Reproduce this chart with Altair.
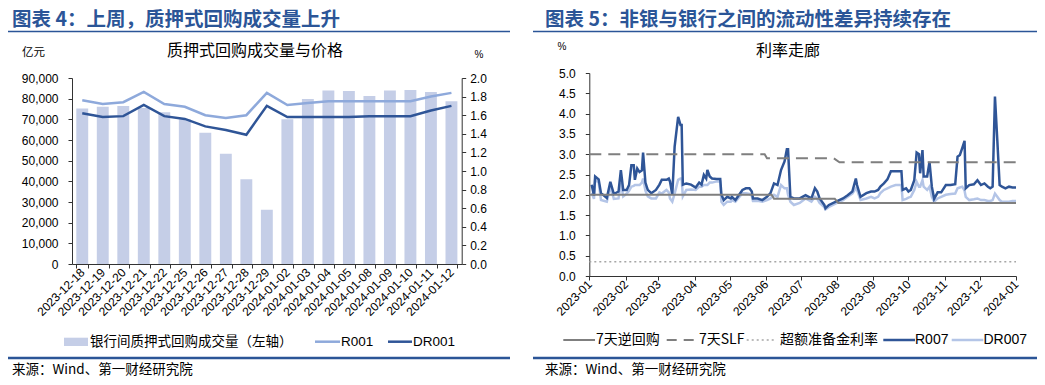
import altair as alt
import pandas as pd

# ---------------- Left panel data ----------------
left_dates = ["2023-12-18", "2023-12-19", "2023-12-20", "2023-12-21", "2023-12-22",
              "2023-12-25", "2023-12-26", "2023-12-27", "2023-12-28", "2023-12-29",
              "2024-01-02", "2024-01-03", "2024-01-04", "2024-01-05", "2024-01-08",
              "2024-01-09", "2024-01-10", "2024-01-11", "2024-01-12"]
left_volume = [75300, 76100, 76400, 75500, 73400, 70000, 63500, 53400, 41000, 26300,
               70000, 79800, 84000, 83700, 81300, 83900, 84200, 83200, 78700]
left_r001 = [1.76, 1.72, 1.74, 1.85, 1.72, 1.69, 1.60, 1.57, 1.60, 1.84,
             1.71, 1.73, 1.75, 1.75, 1.75, 1.75, 1.75, 1.80, 1.84]
left_dr001 = [1.62, 1.58, 1.59, 1.71, 1.59, 1.56, 1.48, 1.44, 1.39, 1.70,
              1.58, 1.58, 1.58, 1.58, 1.59, 1.59, 1.59, 1.65, 1.70]

# ---------------- Right panel data ----------------
right_dates = [
    "2023-01-03", "2023-01-05", "2023-01-06", "2023-01-09", "2023-01-11", "2023-01-16",
    "2023-01-19", "2023-01-22", "2023-01-26", "2023-01-28", "2023-01-30", "2023-02-02",
    "2023-02-04", "2023-02-06", "2023-02-08", "2023-02-09", "2023-02-11", "2023-02-13",
    "2023-02-15", "2023-02-16", "2023-02-18", "2023-02-20", "2023-02-23", "2023-02-27",
    "2023-03-02", "2023-03-04", "2023-03-08", "2023-03-10", "2023-03-11", "2023-03-13",
    "2023-03-15", "2023-03-18", "2023-03-20", "2023-03-21", "2023-03-22", "2023-03-25",
    "2023-03-29", "2023-04-02", "2023-04-05", "2023-04-07", "2023-04-09", "2023-04-11",
    "2023-04-12", "2023-04-14", "2023-04-16", "2023-04-20", "2023-04-23", "2023-04-24",
    "2023-04-26", "2023-04-29", "2023-05-02", "2023-05-03", "2023-05-06", "2023-05-12",
    "2023-05-15", "2023-05-18", "2023-05-20", "2023-05-21", "2023-05-25", "2023-05-29",
    "2023-06-02", "2023-06-05", "2023-06-08", "2023-06-11", "2023-06-14", "2023-06-17",
    "2023-06-19", "2023-06-20", "2023-06-22", "2023-06-25", "2023-06-30", "2023-07-05",
    "2023-07-10", "2023-07-13", "2023-07-15", "2023-07-17", "2023-07-21", "2023-07-22",
    "2023-07-25", "2023-07-31", "2023-08-06", "2023-08-10", "2023-08-14", "2023-08-17",
    "2023-08-18", "2023-08-21", "2023-08-26", "2023-08-30", "2023-09-02", "2023-09-05",
    "2023-09-07", "2023-09-10", "2023-09-13", "2023-09-16", "2023-09-20", "2023-09-25",
    "2023-09-26", "2023-09-29", "2023-10-01", "2023-10-03", "2023-10-06", "2023-10-08",
    "2023-10-10", "2023-10-11", "2023-10-13", "2023-10-14", "2023-10-17", "2023-10-19",
    "2023-10-21", "2023-10-23", "2023-10-26", "2023-10-29", "2023-11-02", "2023-11-06",
    "2023-11-10", "2023-11-12", "2023-11-14", "2023-11-16", "2023-11-18", "2023-11-19",
    "2023-11-22", "2023-11-26", "2023-11-29", "2023-12-02", "2023-12-05", "2023-12-08",
    "2023-12-10", "2023-12-12", "2023-12-14", "2023-12-16", "2023-12-18", "2023-12-20",
    "2023-12-23", "2023-12-26", "2023-12-29", "2024-01-01"]
right_r007 = [
    2.25, 1.98, 2.45, 2.38, 2.04, 1.92, 2.32, 2.02, 2.08, 2.61, 2.12, 2.12,
    2.24, 2.73, 2.73, 2.37, 2.65, 2.56, 2.60, 3.04, 2.30, 2.12, 2.04, 2.12,
    2.25, 2.37, 2.37, 2.40, 2.33, 2.00, 3.19, 3.92, 3.72, 3.72, 2.25, 2.28,
    2.25, 2.18, 2.30, 2.25, 2.49, 2.40, 2.61, 2.45, 2.40, 2.39, 2.39, 2.00,
    1.87, 1.95, 1.91, 1.95, 1.87, 2.12, 2.16, 2.16, 2.08, 1.91, 1.91, 1.87,
    1.95, 2.04, 2.28, 2.24, 2.61, 2.82, 3.12, 3.12, 1.95, 1.91, 1.91, 1.99,
    1.91, 2.16, 2.08, 1.91, 1.75, 1.67, 1.75, 1.83, 1.91, 1.99, 2.08, 2.40,
    2.24, 1.95, 2.04, 2.08, 2.08, 2.12, 2.20, 2.28, 2.38, 2.58, 2.58, 2.58,
    2.12, 2.16, 2.08, 2.12, 2.36, 3.04, 3.00, 2.53, 3.10, 2.45, 2.45, 2.81,
    2.20, 1.90, 2.06, 2.06, 2.24, 2.24, 2.26, 2.94, 2.98, 3.15, 3.33, 2.16,
    2.24, 2.26, 2.36, 2.24, 2.28, 2.20, 2.16, 2.20, 4.42, 3.35, 2.24, 2.20,
    2.16, 2.20, 2.18, 2.18]
right_dr007 = [
    2.05, 1.90, 2.37, 2.30, 1.87, 1.83, 2.20, 1.90, 1.91, 2.30, 1.96, 2.03,
    2.10, 2.20, 2.22, 2.24, 2.24, 2.24, 2.30, 2.40, 2.10, 1.96, 1.91, 1.91,
    2.06, 2.03, 2.12, 2.06, 1.91, 1.83, 2.03, 2.37, 2.40, 2.40, 1.96, 2.12,
    2.13, 2.12, 2.20, 2.20, 2.24, 2.24, 2.24, 2.30, 2.30, 2.33, 2.33, 1.83,
    1.75, 1.83, 1.83, 1.87, 1.83, 2.04, 2.04, 2.02, 1.98, 1.85, 1.85, 1.83,
    1.87, 1.91, 2.00, 1.95, 2.24, 2.16, 2.16, 2.00, 1.83, 1.75, 1.80, 1.91,
    1.83, 1.95, 1.90, 1.80, 1.70, 1.64, 1.70, 1.79, 1.87, 1.95, 2.03, 2.16,
    2.12, 1.87, 1.91, 1.95, 1.91, 1.95, 2.04, 2.12, 2.16, 2.20, 2.24, 2.24,
    1.87, 1.90, 1.93, 1.95, 2.12, 2.32, 2.20, 2.20, 2.36, 2.20, 2.12, 2.20,
    1.95, 1.83, 1.91, 1.95, 2.00, 2.02, 2.03, 2.16, 2.18, 2.20, 2.10, 1.95,
    1.87, 1.89, 1.91, 1.87, 1.87, 1.85, 1.85, 1.87, 2.03, 1.95, 1.87, 1.83,
    1.83, 1.83, 1.85, 1.85]

# policy rates
rr_dates = ["2023-01-01", "2023-06-06", "2023-06-08", "2023-07-30", "2023-08-02", "2024-01-01"]
rr_values = [2.0, 2.0, 1.9, 1.9, 1.8, 1.8]
slf_dates = ["2023-01-01", "2023-05-31", "2023-06-02", "2023-07-29", "2023-08-03", "2024-01-01"]
slf_values = [3.0, 3.0, 2.9, 2.9, 2.8, 2.8]
ex_dates = ["2023-01-01", "2024-01-01"]
ex_values = [0.35, 0.35]

# ---------------- style ----------------
W, H = 1029, 369
CJK = "Noto Sans CJK SC"
NUM = "Liberation Sans"
BLUE_T = "#2B5597"
C_BAR = "#C5CEE7"
C_R001 = "#8EA9DB"
C_DARK = "#2F5597"
C_DR007 = "#B4C5E7"
C_GRAY = "#7F7F7F"
C_AX = "#333333"

ax_common = dict(title=None, grid=False, labelFont=NUM, labelFontSize=12, labelColor="#000000",
                 domainColor=C_AX, tickColor=C_AX, tickSize=4, labelOverlap=False)

# ---------------- Left panel ----------------
left_df = pd.DataFrame({"date": left_dates, "volume": left_volume,
                        "R001": left_r001, "DR001": left_dr001})

x_left_scale = alt.Scale(type="band", domain=left_dates, range=[64, 453.7],
                         paddingInner=0.42, paddingOuter=0.21)
x_left_axis = alt.Axis(orient="bottom", offset=-113, labelAngle=-45, labelAlign="right",
                       labelBaseline="middle", tickBand="extent", labelPadding=2, **ax_common)

bars = alt.Chart(left_df).mark_bar(color=C_BAR).encode(
    x=alt.X("date:O", scale=x_left_scale, axis=x_left_axis),
    y=alt.Y("volume:Q", scale=alt.Scale(domain=[0, 90000], range=[256, 70], nice=False),
            axis=alt.Axis(orient="left", offset=-64, values=list(range(0, 90001, 10000)),
                          format=",.0f", labelPadding=10, **ax_common)),
)

rate_axis = alt.Axis(orient="right", offset=-575.3, values=[i / 5 for i in range(11)],
                     format=".1f", labelPadding=4, **ax_common)
rate_scale = alt.Scale(domain=[0, 2.0], range=[256, 70], nice=False)


def left_line(field, color):
    return alt.Chart(left_df).mark_line(color=color, strokeWidth=2.5).encode(
        x=alt.X("date:O", scale=x_left_scale, axis=x_left_axis, bandPosition=0.5),
        y=alt.Y(f"{field}:Q", scale=rate_scale, axis=rate_axis),
    )


left_combo = alt.layer(bars, alt.layer(left_line("R001", C_R001), left_line("DR001", C_DARK))
                       ).resolve_scale(y="independent")

# ---------------- Right panel ----------------
right_df = pd.DataFrame({"date": right_dates, "R007": right_r007, "DR007": right_dr007})
rr_df = pd.DataFrame({"date": rr_dates, "v": rr_values})
slf_df = pd.DataFrame({"date": slf_dates, "v": slf_values})
ex_df = pd.DataFrame({"date": ex_dates, "v": ex_values})

x_right_scale = alt.Scale(type="utc", domain=[alt.DateTime(year=2023, month=1, date=1, utc=True),
                                              alt.DateTime(year=2024, month=1, date=1, utc=True)],
                          range=[581.3, 1008], nice=False)
month_vals = [alt.DateTime(year=2023, month=m, date=1, utc=True) for m in range(1, 13)] + \
             [alt.DateTime(year=2024, month=1, date=1, utc=True)]
x_right_axis = alt.Axis(orient="bottom", offset=-101, values=month_vals, format="%Y-%m",
                        labelAngle=-45, labelAlign="right", labelBaseline="middle",
                        labelFlush=False, labelPadding=2, **ax_common)
y_right_scale = alt.Scale(domain=[0, 5], range=[268, 65], nice=False)
y_right_axis = alt.Axis(orient="left", offset=-581.3, values=[i / 2 for i in range(11)],
                        format=".1f", labelPadding=10, **ax_common)


def right_line(df, field, color, width, dash=None):
    kw = dict(color=color, strokeWidth=width)
    if dash:
        kw["strokeDash"] = dash
    return alt.Chart(df).mark_line(**kw).encode(
        x=alt.X("date:T", scale=x_right_scale, axis=x_right_axis),
        y=alt.Y(f"{field}:Q", scale=y_right_scale, axis=y_right_axis),
    )


right_combo = alt.layer(
    right_line(right_df, "DR007", C_DR007, 2.5),
    right_line(right_df, "R007", C_DARK, 2.5),
    right_line(rr_df, "v", C_GRAY, 2),
    right_line(slf_df, "v", C_GRAY, 2, [12, 7]),
    right_line(ex_df, "v", "#A6A6A6", 1.5, [2, 3]),
)

# ---------------- Decorations ----------------
one = pd.DataFrame({"k": [0]})


def txt(s, x, y, size, color="#000000", weight="normal", align="left", font=CJK):
    return alt.Chart(one).mark_text(text=s, align=align, baseline="middle", fontSize=size,
                                    fontWeight=weight, color=color, font=font).encode(
        x=alt.value(x), y=alt.value(y))


def hrule(x1, x2, y, color, width, dash=None):
    kw = dict(color=color, strokeWidth=width)
    if dash:
        kw["strokeDash"] = dash
    return alt.Chart(one).mark_rule(**kw).encode(x=alt.value(x1), x2=alt.value(x2), y=alt.value(y))


def rect(x1, x2, y1, y2, color):
    return alt.Chart(one).mark_rect(color=color).encode(
        x=alt.value(x1), x2=alt.value(x2), y=alt.value(y1), y2=alt.value(y2))


decor = [
    # headings
    txt("图表 4：上周，质押式回购成交量上升", 4, 11.5, 19.5, BLUE_T, "bold"),
    txt("图表 5：非银与银行之间的流动性差异持续存在", 537, 11.5, 19.5, BLUE_T, "bold"),
    hrule(0, 502, 23.5, BLUE_T, 1.5),
    hrule(525, 1029, 23.5, BLUE_T, 1.5),
    # chart titles & units
    txt("质押式回购成交量与价格", 247, 43, 16, align="center"),
    txt("亿元", 14, 45, 11.5),
    txt("%", 471, 47, 10, align="center", font=NUM),
    txt("利率走廊", 780, 43, 16, align="center"),
    txt("%", 554, 39, 10, align="center", font=NUM),
    # left legend
    rect(56, 80, 329.7, 338, C_BAR),
    txt("银行间质押式回购成交量（左轴）", 82, 333.7, 13.5),
    hrule(307, 332, 333.7, C_R001, 2.5),
    txt("R001", 333, 333.7, 13.5, font=NUM),
    hrule(380, 404, 333.7, C_DARK, 2.5),
    txt("DR001", 405, 333.7, 13.5, font=NUM),
    # right legend
    hrule(555.3, 587, 332, C_GRAY, 2),
    txt("7天逆回购", 588, 332, 14),
    hrule(658.7, 690, 332, C_GRAY, 2, [10, 7]),
    txt("7天SLF", 691, 332, 14),
    hrule(738.7, 768.7, 332, "#A6A6A6", 1.5, [2, 3]),
    txt("超额准备金利率", 772, 332, 14),
    hrule(875.3, 907, 332, C_DARK, 2.5),
    txt("R007", 907, 332, 14, font=NUM),
    hrule(943.7, 975.3, 332, C_DR007, 2.5),
    txt("DR007", 975.5, 332, 14, font=NUM),
    # bottom rules & source
    hrule(0, 502, 350, BLUE_T, 2.5),
    hrule(525, 1029, 350, BLUE_T, 2.5),
    txt("来源：Wind、第一财经研究院", 4, 361.5, 13.5),
    txt("来源：Wind、第一财经研究院", 537, 361.5, 13.5),
]

chart = alt.layer(left_combo, right_combo, *decor).resolve_scale(
    x="independent", y="independent"
).properties(
    width=W, height=H, autosize=alt.AutoSizeParams(type="none"), padding=0
).configure_view(strokeWidth=0)

chart.save("out.html", embed_options={"renderer": "svg", "actions": False})
